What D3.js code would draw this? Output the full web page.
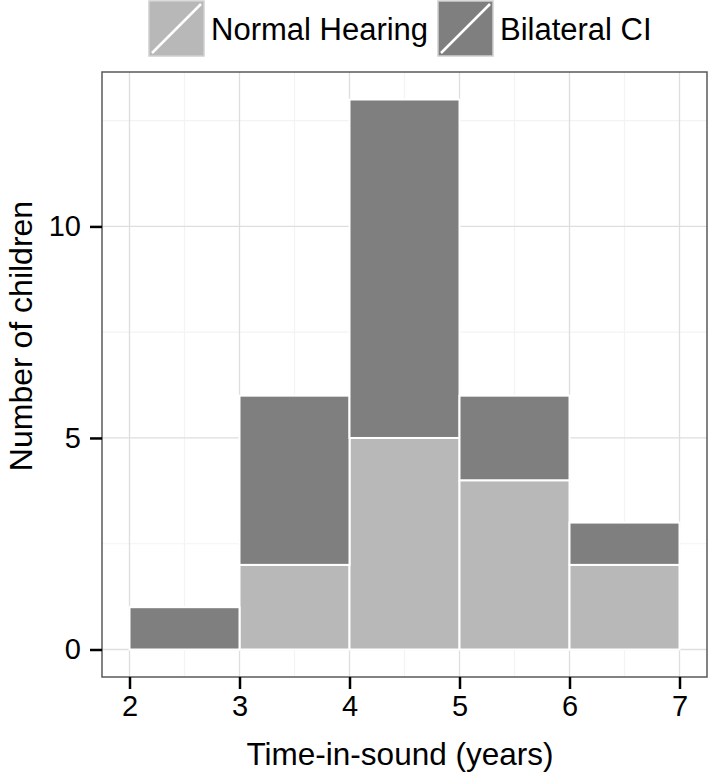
<!DOCTYPE html>
<html>
<head>
<meta charset="utf-8">
<script src="https://cdn.jsdelivr.net/npm/d3@7"></script>
<style>
  body { margin: 0; background: #fff; }
  text { font-family: "Liberation Sans", Arial, Helvetica, sans-serif; fill: #000; }
</style>
</head>
<body>
<svg id="chart"></svg>
<script>
const binStarts = [2, 3, 4, 5, 6]
const normalHearing = [0, 2, 5, 4, 2]
const bilateralCI = [1, 4, 8, 2, 1]
const groups = ["Normal Hearing", "Bilateral CI"]
const groupColors = ["#b8b8b8", "#7f7f7f"]
const xTicks = [2, 3, 4, 5, 6, 7]
const yTicks = [0, 5, 10]

const W = 709, H = 774
const panel = { left: 102, top: 72, right: 707, bottom: 677 }

const svg = d3.select("#chart").attr("width", W).attr("height", H)

const x = d3.scaleLinear().domain([1.75, 7.25]).range([panel.left, panel.right])
const y = d3.scaleLinear().domain([-0.65, 13.65]).range([panel.bottom, panel.top])

// minor grid
const xMinor = d3.range(2.5, 7, 1)
const yMinor = [2.5, 7.5, 12.5]
svg.append("g").selectAll("line").data(xMinor).join("line")
    .attr("x1", d => x(d)).attr("x2", d => x(d))
    .attr("y1", panel.top).attr("y2", panel.bottom)
    .attr("stroke", "#f3f3f3").attr("stroke-width", 1.2)
svg.append("g").selectAll("line").data(yMinor).join("line")
    .attr("y1", d => y(d)).attr("y2", d => y(d))
    .attr("x1", panel.left).attr("x2", panel.right)
    .attr("stroke", "#f3f3f3").attr("stroke-width", 1.2)

// major grid
svg.append("g").selectAll("line").data(xTicks).join("line")
    .attr("x1", d => x(d)).attr("x2", d => x(d))
    .attr("y1", panel.top).attr("y2", panel.bottom)
    .attr("stroke", "#dedede").attr("stroke-width", 1.3)
svg.append("g").selectAll("line").data(yTicks).join("line")
    .attr("y1", d => y(d)).attr("y2", d => y(d))
    .attr("x1", panel.left).attr("x2", panel.right)
    .attr("stroke", "#dedede").attr("stroke-width", 1.3)

// stacked bars
const rows = binStarts.map((b, i) => ({ bin: b, "Normal Hearing": normalHearing[i], "Bilateral CI": bilateralCI[i] }))
const stacked = d3.stack().keys(groups)(rows)

svg.append("g").selectAll("g").data(stacked).join("g")
    .attr("fill", (d, i) => groupColors[i])
    .selectAll("rect").data(d => d.filter(s => s[1] > s[0])).join("rect")
    .attr("x", d => x(d.data.bin))
    .attr("width", d => x(d.data.bin + 1) - x(d.data.bin))
    .attr("y", d => y(d[1]))
    .attr("height", d => y(d[0]) - y(d[1]))
    .attr("stroke", "#fff")
    .attr("stroke-width", 2)

// panel border
svg.append("rect")
    .attr("x", panel.left).attr("y", panel.top)
    .attr("width", panel.right - panel.left).attr("height", panel.bottom - panel.top)
    .attr("fill", "none").attr("stroke", "#595959").attr("stroke-width", 1.5)

// axes
const xAxis = svg.append("g")
    .attr("transform", "translate(0," + panel.bottom + ")")
    .call(d3.axisBottom(x).tickValues(xTicks).tickFormat(d3.format("d")).tickSize(12).tickPadding(6))
const yAxis = svg.append("g")
    .attr("transform", "translate(" + panel.left + ",0)")
    .call(d3.axisLeft(y).tickValues(yTicks).tickFormat(d3.format("d")).tickSize(12).tickPadding(9))
;[xAxis, yAxis].forEach(a => {
    a.select(".domain").remove()
    a.selectAll(".tick line").attr("stroke", "#000").attr("stroke-width", 2.5)
    a.selectAll(".tick text").style("font-size", "29px").attr("fill", "#000")
})

svg.append("text")
    .attr("x", 400)
    .attr("y", 765)
    .style("font-size", "31.5px")
    .style("text-anchor", "middle")
    .text("Time-in-sound (years)")

svg.append("text")
    .attr("transform", "translate(32,336) rotate(-90)")
    .style("font-size", "32px")
    .style("text-anchor", "middle")
    .text("Number of children")

// legend
const legendX = [149, 438]
const keySize = 55
const legend = svg.append("g").selectAll("g").data(groups).join("g")
    .attr("transform", (d, i) => "translate(" + legendX[i] + ",1)")
legend.append("rect")
    .attr("width", keySize).attr("height", keySize)
    .attr("fill", (d, i) => groupColors[i])
    .attr("stroke", "#d0d0d0").attr("stroke-width", 1.5)
legend.append("line")
    .attr("x1", 3).attr("y1", keySize - 3)
    .attr("x2", keySize - 3).attr("y2", 3)
    .attr("stroke", "#fff").attr("stroke-width", 2.5)
legend.append("text")
    .attr("x", keySize + 7)
    .attr("y", keySize / 2 + 11)
    .style("font-size", "31px")
    .text(d => d)
</script>
</body>
</html>
